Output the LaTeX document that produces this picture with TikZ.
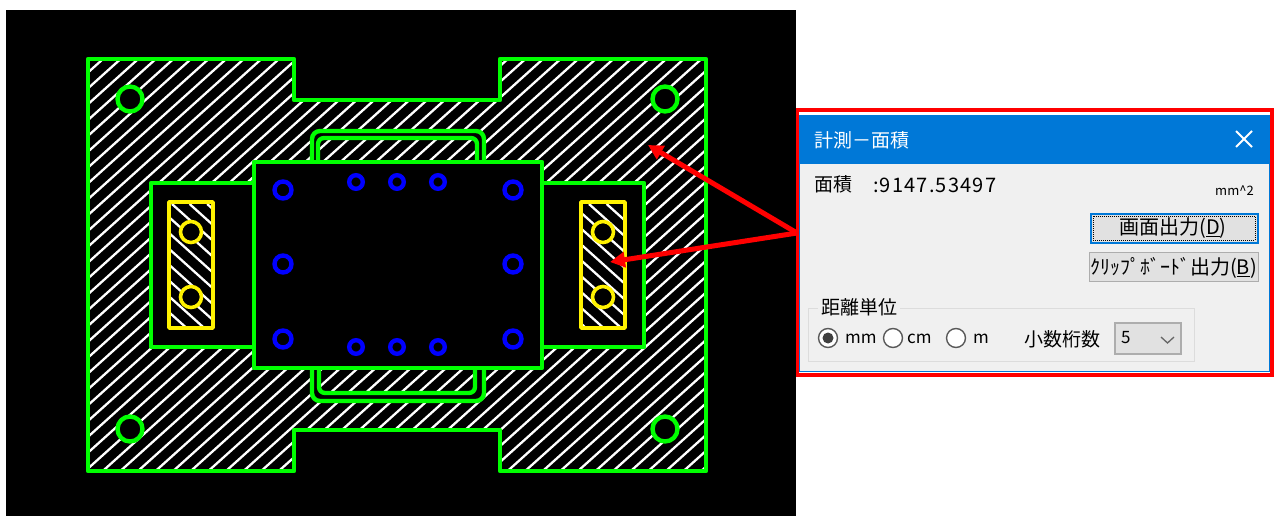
\documentclass[tikz,border=0pt]{standalone}
\usepackage{fontspec}
\setmainfont{Noto Sans CJK JP}
\newfontface\spacedfont[LetterSpace=6]{Noto Sans CJK JP}
\usetikzlibrary{arrows.meta}
\definecolor{titleblue}{HTML}{0078D7}
\definecolor{bodygray}{HTML}{F0F0F0}
\definecolor{buttongray}{HTML}{E1E1E1}
\definecolor{edgegray}{HTML}{ADADAD}
\definecolor{groupgray}{HTML}{DCDCDC}
\tikzset{
	greenline/.style={draw=green, line width=4.4pt, line join=round},
	blueline/.style={draw=blue, line width=4.4pt, fill=black},
	yellowline/.style={draw=yellow, line width=3.6pt, fill=black},
	hatchline/.style={draw=white, line width=2.3pt},
	redarrow/.style={draw=red, line width=5pt, -{Triangle[length=15pt,width=15pt]}},
	lbl/.style={inner sep=0pt, anchor=west, text=black},
	radio/.style={draw=black!65, line width=1.4pt, fill=white},
}
\newcommand{\fsz}[1]{\fontsize{#1}{#1}\selectfont}
\begin{document}
\begin{tikzpicture}[x=1pt,y=-1pt]
	\useasboundingbox (0,0) rectangle (1274,516);
	\fill[white] (0,0) rectangle (1274,516);
	\fill[black] (6,10) rectangle (796,516);
	% hatching of the plate
	\begin{scope}
		\clip (88,59) -- (294,59) -- (294,100) -- (500,100) -- (500,59) -- (706,59) --
			(706,471) -- (500,471) -- (500,430) -- (294,430) -- (294,471) -- (88,471) -- cycle;
		\foreach \k in {-1,...,62}
			\draw[hatchline] ({103+17.6*(\k-1)},59) -- ({103+17.6*(\k-1)-457.8},471);
		\fill[black,even odd rule,rounded corners=7pt] (312,170) -- (312,131) -- (484,131) -- (484,170) -- cycle
			(318,170) -- (318,138) -- (477,138) -- (477,170) -- cycle;
		\fill[black,even odd rule,rounded corners=7pt] (312,360) -- (312,401) -- (484,401) -- (484,360) -- cycle
			(319,360) -- (319,393) -- (475,393) -- (475,360) -- cycle;
	\end{scope}
	% plate outline and tabs
	\draw[greenline] 	(88,59) -- (294,59) -- (294,100) -- (500,100) -- (500,59) -- (706,59) --
				(706,471) -- (500,471) -- (500,430) -- (294,430) -- (294,471) -- (88,471) -- cycle;
	\draw[greenline,rounded corners=8pt] (312,170) -- (312,131) -- (484,131) -- (484,170);
	\draw[greenline,rounded corners=6pt] (318,170) -- (318,138) -- (477,138) -- (477,170);
	\draw[greenline,rounded corners=8pt] (312,360) -- (312,401) -- (484,401) -- (484,360);
	\draw[greenline,rounded corners=6pt] (319,360) -- (319,393) -- (475,393) -- (475,360);
	% side boxes and centre block
	\draw[greenline,fill=black] (151,183) rectangle (254,347);
	\draw[greenline,fill=black] (542,183) rectangle (644,347);
	\draw[greenline,fill=black] (254,162) rectangle (542,368);
	% corner holes
	\foreach \x/\y in {130/99,665/99,130/429,665/429}
		\draw[greenline,fill=black] (\x,\y) circle(12.5);
	% blue holes
	\foreach \x/\y in {283/190,283/264,283/339,513/190,513/264,513/339}
		\draw[blueline] (\x,\y) circle(8.5);
	\foreach \x/\y in {356/182,397/182,438/182,356/347,397/347,438/347}
		\draw[blueline] (\x,\y) circle(6.8);
	% yellow slots
	\foreach \l/\a in {169/172,581/589}{
		\begin{scope}
			\clip (\l,202) rectangle +(44,126);
			\foreach \k in {-9,...,3}
				\draw[hatchline] ({\a+17.6*\k},204) -- ({\a+17.6*\k+140},330);
		\end{scope}
		\draw[draw=yellow, line width=3.8pt, line join=round] (\l,202) rectangle +(44,126);
		\foreach \y in {232,297}
			\draw[yellowline] ({\l+22},\y) circle(10.5);
	}
	% dialog
	\fill[red] (796,108) rectangle (1274,377);
	\fill[white] (799,112) rectangle (1270,373);
	\fill[titleblue] (799,115) rectangle (1270,164);
	\fill[bodygray] (800,164) rectangle (1269,371);
	\draw[titleblue,line width=0.8pt] (799.5,164) -- (799.5,371.5) -- (1269.5,371.5) -- (1269.5,164);
	\node[lbl,text=white] (title) at (814,140) {\fsz{19}計測－面積};
	\coordinate (closeA) at (1236,131);
	\coordinate (closeB) at (1252,147);
	\coordinate (closeC) at (1236,147);
	\coordinate (closeD) at (1252,131);
	\draw[white,line width=1.8pt] (closeA) -- (closeB) (closeC) -- (closeD);
	\node[lbl] (areaname) at (814,184) {\fsz{19}面積};
	\node[lbl] (areavalue) at (873,185) {\fsz{20}\spacedfont :9147.53497};
	\node[lbl] (areaunit) at (1215,191) {\fsz{13}mm\^{}2};
	\node[draw=titleblue,line width=2pt,fill=buttongray,minimum width=167pt,minimum height=29pt,inner sep=0pt] (screenbtn) at (1174,228) {};
	\draw[black,line width=1pt,densely dotted] (1093,216) rectangle (1255,240);
	\node[inner sep=0pt] (screenlbl) at (1173,228.5) {\fsz{20}画面出力(\underline{D})};
	\node[draw=edgegray,line width=1.4pt,fill=buttongray,minimum width=169pt,minimum height=29pt,inner sep=0pt] (clipbtn) at (1174,267) {};
	\node[inner sep=0pt] (cliplbl) at (1173.5,268) {\fsz{20}ｸﾘｯﾌﾟﾎﾞｰﾄﾞ出力(\underline{B})};
	\draw[groupgray,line width=1pt] (808,308) rectangle (1194,361);
	\node[lbl,fill=bodygray,inner xsep=3pt] (grouplbl) at (818,307) {\fsz{19}距離単位};
	\foreach \n/\x/\t/\tx in {rmm/828/mm/845,rcm/893/cm/907,rm/956/m/973}{
		\node[radio,circle,minimum size=19pt,inner sep=0pt] (\n) at (\x,338) {};
		\node[lbl] (\n lbl) at (\tx,339) {\fsz{17}\t};
	}
	\fill[black!75] (rmm) circle(5.5);
	\node[lbl] (digitslbl) at (1024,339) {\fsz{19}小数桁数};
	\node[draw=edgegray,line width=1.4pt,fill=buttongray,minimum width=66pt,minimum height=31pt,inner sep=0pt] (combo) at (1148,338.5) {};
	\node[lbl] (combolbl) at (1121,338) {\fsz{17}5};
	\coordinate (chevA) at (1161,337);
	\coordinate (chevB) at (1167.5,343);
	\coordinate (chevC) at (1174,337);
	\draw[black!60,line width=1.3pt] (chevA) -- (chevB) -- (chevC);
	% red arrows
	\coordinate (tail) at (797,233);
	\coordinate (tipplate) at (648,145);
	\coordinate (tipslot) at (610,262);
	\draw[redarrow] (tail) -- (tipplate);
	\draw[redarrow] (tail) -- (tipslot);
\end{tikzpicture}
\end{document}
